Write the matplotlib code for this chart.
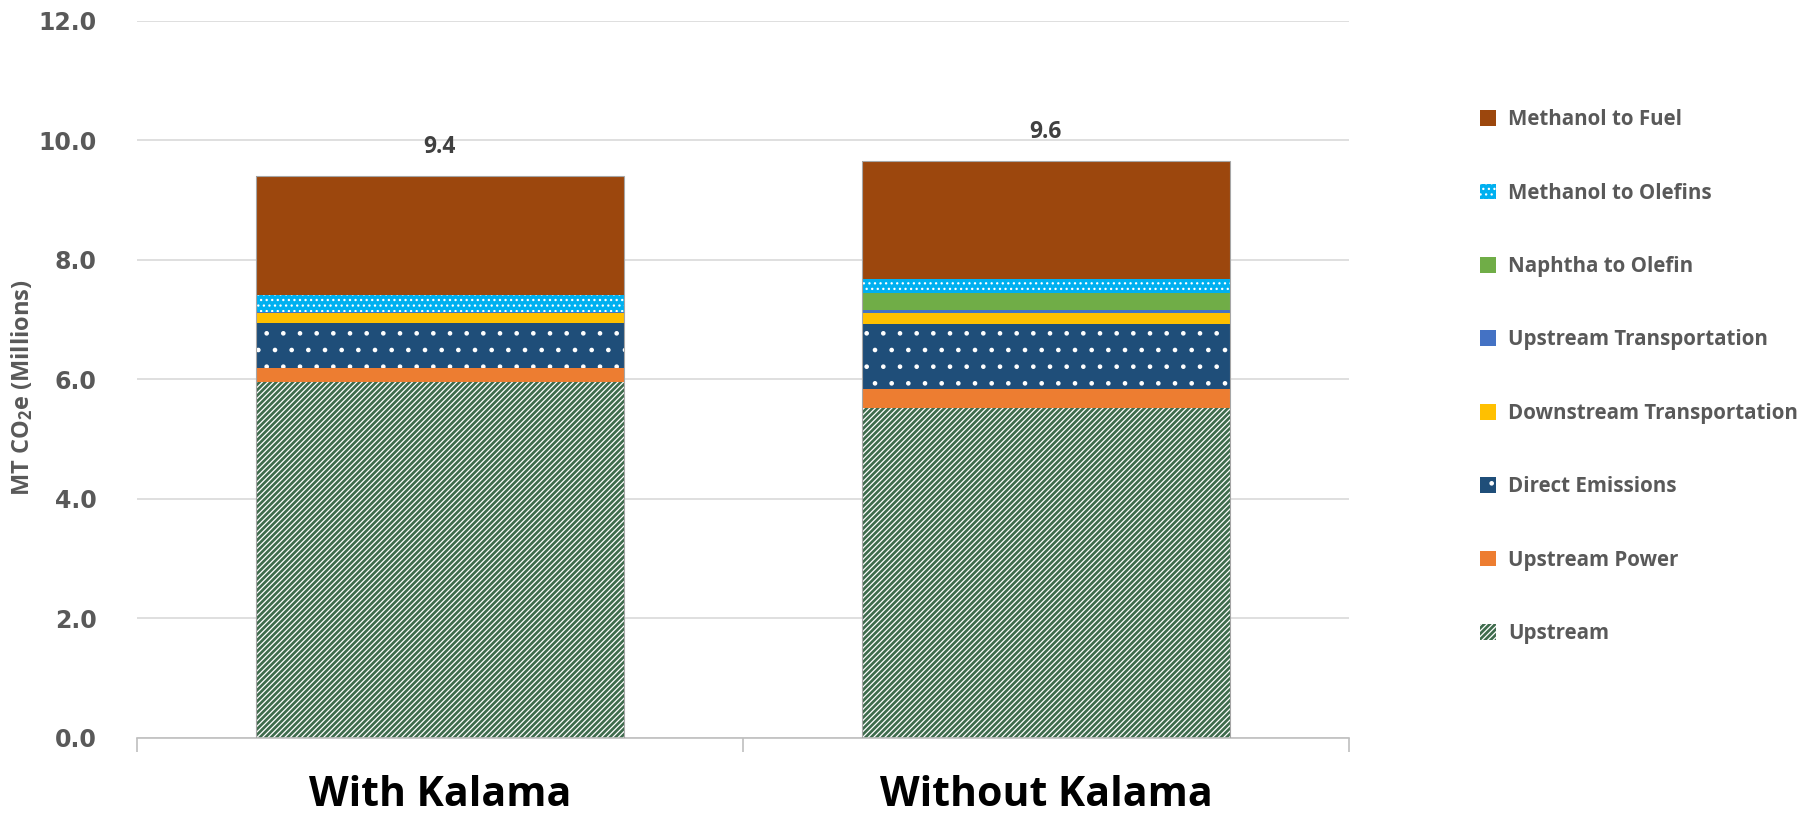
import matplotlib.pyplot as plt
import numpy as np

# data (millions of MT CO2e)
categories = ['With Kalama', 'Without Kalama']
series = ['Upstream', 'Upstream Power', 'Direct Emissions', 'Downstream Transportation',
          'Upstream Transportation', 'Naphtha to Olefin', 'Methanol to Olefins', 'Methanol to Fuel']
upstream = [5.96, 5.52]
upstream_power = [0.22, 0.31]
direct_emissions = [0.76, 1.09]
downstream_transport = [0.16, 0.19]
upstream_transport = [0.03, 0.05]
naphtha_to_olefin = [0.00, 0.28]
methanol_to_olefins = [0.28, 0.24]
methanol_to_fuel = [1.99, 1.97]
total_labels = ['9.4', '9.6']

values = [upstream, upstream_power, direct_emissions, downstream_transport,
          upstream_transport, naphtha_to_olefin, methanol_to_olefins, methanol_to_fuel]
colors = ['#3E6B4C', '#ED7D31', '#1F4E79', '#FFC000',
          '#4472C4', '#70AD47', '#00B0F0', '#9C470D']
hatches = ['//////', None, '.', None, None, None, '...', None]

plt.rcParams['hatch.linewidth'] = 0.9
plt.rcParams['mathtext.default'] = 'regular'

fig = plt.figure(figsize=(18.16, 8.15), dpi=100)
ax = fig.add_axes([0.0754, 0.095, 0.6674, 0.8795])

x = np.arange(len(categories))
width = 0.607
bottom = np.zeros(len(categories))
handles = []
for name, vals, col, h in zip(series, values, colors, hatches):
    vals = np.array(vals)
    b = ax.bar(x, vals, width, bottom=bottom, color=col, label=name,
               hatch=h, edgecolor='white' if h else col, linewidth=0, zorder=2)
    handles.append(b)
    bottom = bottom + vals

# thin outline around each stack
ax.bar(x, bottom, width, fill=False, edgecolor='#A6A6A6', linewidth=0.8, zorder=3)

for xi, tot, lab in zip(x, bottom, total_labels):
    ax.annotate(lab, (xi, tot), xytext=(0, 21), textcoords='offset points',
                ha='center', va='center', fontsize=16.5, fontweight='bold',
                family='Open Sans', color='#404040')

ax.set_ylim(0, 12)
ax.set_xlim(-0.5, 1.5)
ax.set_yticks(np.arange(0, 12.1, 2))
ax.set_yticklabels([f'{v:.1f}' for v in np.arange(0, 12.1, 2)],
                   fontsize=17, fontweight='bold', family='DejaVu Sans', color='#595959')
ax.tick_params(axis='y', length=0, pad=29)
ax.set_xticks(x)
ax.set_xticklabels(categories, fontsize=29.5, fontweight='bold', family='Open Sans', color='black')
ax.tick_params(axis='x', which='major', length=0, pad=27)
ax.set_xticks([-0.5, 0.5, 1.5], minor=True)
ax.tick_params(axis='x', which='minor', length=10, color='#BFBFBF', width=1.2)

ax.grid(axis='y', color='#D9D9D9', linewidth=1.2, zorder=0)
ax.set_axisbelow(True)
for s in ['top', 'right', 'left']:
    ax.spines[s].set_visible(False)
ax.spines['bottom'].set_color('#BFBFBF')
ax.spines['bottom'].set_linewidth(1.2)

ax.set_ylabel('MT CO$_2$e (Millions)', fontsize=17, fontweight='bold',
              family='Open Sans', color='#595959')
ax.yaxis.set_label_coords(-0.084, 0.488)

fig.legend(handles[::-1], series[::-1], loc='upper left', bbox_to_anchor=(0.815, 0.866),
           frameon=False, prop={'family': 'Open Sans', 'weight': 'bold', 'size': 14.8},
           labelcolor='#595959', handlelength=0.8, handleheight=0.8,
           handletextpad=0.55, labelspacing=2.55, borderpad=0, borderaxespad=0)

fig.savefig('out.png', dpi=100)
